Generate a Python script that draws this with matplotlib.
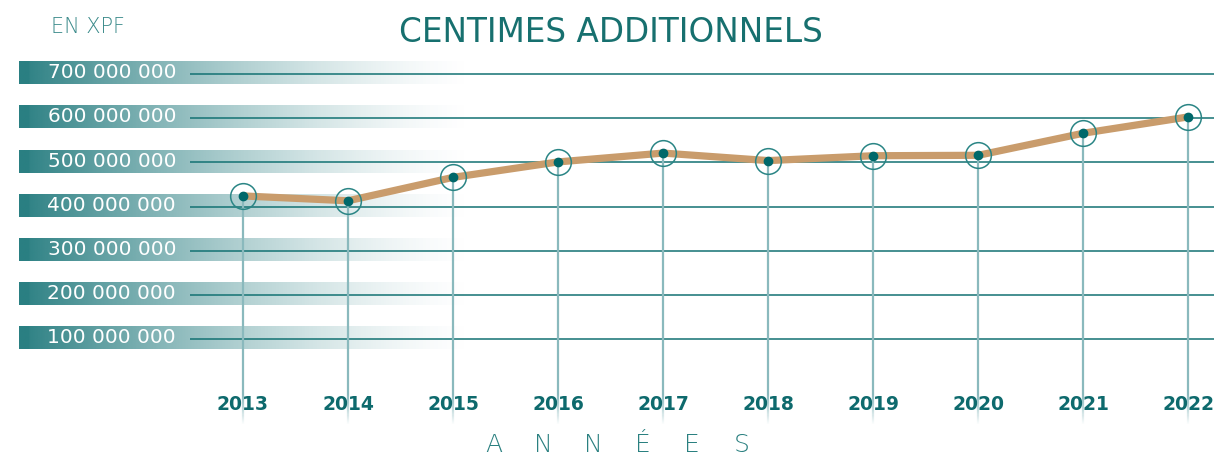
import numpy as np
import matplotlib
matplotlib.use("Agg")
import matplotlib.pyplot as plt
from matplotlib.collections import LineCollection

# ---- data ----
years = [2013, 2014, 2015, 2016, 2017, 2018, 2019, 2020, 2021, 2022]
values = [424e6, 413e6, 466e6, 501e6, 521e6, 504e6, 515e6, 516e6, 566e6, 603e6]
y_ticks = [100e6, 200e6, 300e6, 400e6, 500e6, 600e6, 700e6]
y_tick_labels = ["100 000 000", "200 000 000", "300 000 000", "400 000 000",
                 "500 000 000", "600 000 000", "700 000 000"]
title = "CENTIMES ADDITIONNELS"
unit_label = "EN XPF"
x_title = "ANNÉES"

# ---- style ----
TEAL = "#17706f"
TEAL_TXT = "#0e6a6d"
GRID = "#137273"
BAND = np.array([0x2a, 0x7f, 0x82]) / 255.0
DROP = "#8ab9bd"
RING = "#2a8585"
DOT = "#00686a"
LINE = "#c99c6c"

W, H = 1214, 457
fig = plt.figure(figsize=(W / 100, H / 100), dpi=100)
ax = fig.add_axes([0, 0, 1, 1])
ax.axis("off")

XLIM = (2010.687, 2022.243)
YLIM = (-167.1e6, 867.6e6)

def fx(px):  # axes fraction from pixel x
    return px / W

def xdata(px):
    return XLIM[0] + fx(px) * (XLIM[1] - XLIM[0])

font = "DejaVu Sans"

# gradient bands behind tick labels
n = 256
t = np.linspace(0, 1, n)
alpha = np.clip((1 - t), 0, 1) ** 1.5
alpha[t < 0.02] = 1
grad = np.zeros((1, n, 4))
grad[0, :, :3] = BAND
grad[0, :, 3] = alpha
half = 11.5 / 44.17 * 100e6
for v, lab in zip(y_ticks, y_tick_labels):
    c = v + 3e6
    ax.imshow(grad, extent=[xdata(19), xdata(475), c - half, c + half],
              aspect="auto", zorder=1, interpolation="bilinear")
    ax.text(fx(176), c, lab, transform=ax.get_yaxis_transform(), ha="right",
            va="center", color="white", fontsize=14.5, family=font, zorder=3)

# gridlines
ax.hlines(y_ticks, fx(190), 1, transform=ax.get_yaxis_transform(),
          color=GRID, lw=1.1, zorder=2)

# vertical drop lines with fade at bottom
y_fade_start = -25e6
y_end = -95e6
for x, v in zip(years, values):
    ax.plot([x, x], [v, y_fade_start], color=DROP, lw=1.6, zorder=4,
            solid_capstyle="butt")
    ys = np.linspace(y_fade_start, y_end, 30)
    segs = [[(x, ys[i]), (x, ys[i + 1])] for i in range(len(ys) - 1)]
    cols = [(0x8a / 255, 0xb9 / 255, 0xbd / 255, a) for a in np.linspace(1, 0, len(segs))]
    ax.add_collection(LineCollection(segs, colors=cols, lw=1.6, zorder=4))

# main line
ax.plot(years, values, color=LINE, lw=5.2, zorder=5, solid_joinstyle="round",
        solid_capstyle="round")
ax.plot(years, values, linestyle="none", marker="o", markersize=18.5,
        markerfacecolor="none", markeredgecolor=RING, markeredgewidth=1.1, zorder=6)
ax.plot(years, values, linestyle="none", marker="o", markersize=6,
        markerfacecolor=DOT, markeredgecolor=DOT, zorder=7)

# year labels
for x in years:
    ax.text(x, 1 - 404 / H, str(x), transform=ax.get_xaxis_transform(),
            ha="center", va="center", color=TEAL_TXT, fontsize=13.5,
            fontweight="bold", family=font, zorder=8)

# x title with spaced letters
cx = 618
step = 49.5
nl = len(x_title)
for i, ch in enumerate(x_title):
    px = cx + (i - (nl - 1) / 2) * step
    fig.text(px / W, 1 - 445 / H, ch, ha="center", va="center", color="#2a8080",
             fontsize=18, family=font, fontweight="light")

# title and unit
fig.text(611 / W, 1 - 32 / H, title, ha="center", va="center", color=TEAL,
         fontsize=23.5, family=font, fontweight="normal")
fig.text(88 / W, 1 - 27 / H, unit_label, ha="center", va="center", color="#3a8a8a",
         fontsize=15, family=font, fontweight="light")

ax.set_xlim(*XLIM)
ax.set_ylim(*YLIM)
fig.savefig("out.png", dpi=100)
